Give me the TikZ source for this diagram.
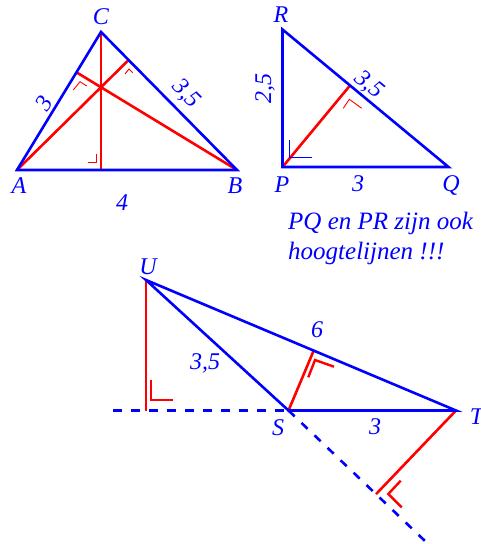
\documentclass[tikz,border=0pt]{standalone}
\usepackage{fontspec}
\setmainfont{Liberation Serif}
\usetikzlibrary{calc}
\begin{document}
\begin{tikzpicture}[x=1pt,y=-1pt,
  side/.style={draw=blue, line width=2.6pt, line join=miter},
  alt/.style={draw=red, line width=2.6pt},
  thinmark/.style={draw=red, line width=0.9pt},
  thinblue/.style={draw=blue, line width=1.1pt},
  bigmark/.style={draw=red, line width=2.4pt},
  lbl/.style={text=blue, font=\itshape\fontsize{24}{28}\selectfont, inner sep=0pt},
  note/.style={text=blue, font=\itshape\fontsize{25}{30}\selectfont, inner sep=0pt},
  dashline/.style={draw=blue, line width=2.6pt, dash pattern=on 8.5pt off 9.5pt}]
\useasboundingbox (0,0) rectangle (480,544);
% ---------- triangle ABC ----------
\coordinate (A) at (17,170);
\coordinate (B) at (237,170);
\coordinate (C) at (101,32);
\coordinate (Ha) at ($(C)!(A)!(B)$);
\coordinate (Hb) at ($(A)!(B)!(C)$);
\coordinate (Hc) at ($(A)!(C)!(B)$);
\draw[alt] (A) -- (Ha);
\draw[alt] (B) -- (Hb);
\draw[alt] (C) -- (Hc);
\draw[side] (A) -- (B) -- (C) -- cycle;
\draw[thinmark] (73.3,90) -- (80,81.7) -- (86.7,86);
\draw[thinmark] (125,74) -- (129,69) -- (132.7,72.7);
\draw[thinmark] (96,153.5) -- (96,162.3) -- (87.5,162.3);
\node[lbl] (lC) at (101,17) {C};
\node[lbl] (lA) at (19,186) {A};
\node[lbl] (lB) at (235,186) {B};
\node[lbl] (lAB) at (122,203) {4};
\node[lbl, rotate=58] (lAC) at (44,103) {3};
\node[lbl, rotate=-45] (lBC) at (186,94) {3,5};
% ---------- triangle PQR ----------
\coordinate (R) at (282.5,29.5);
\coordinate (P) at (282.5,167);
\coordinate (Q) at (448.5,167);
\coordinate (F) at ($(R)!(P)!(Q)$);
\draw[alt] (P) -- (F);
\draw[side] (P) -- (Q) -- (R) -- cycle;
\draw[thinblue] (289.3,140) -- (289.3,157.7) -- (311.7,157.7);
\draw[thinmark] (343.3,108.3) -- (349.3,99.3) -- (361.7,108.3);
\node[lbl] (lR) at (281,15) {R};
\node[lbl] (lP) at (282,185) {P};
\node[lbl] (lQ) at (451,185) {Q};
\node[lbl] (lPQ) at (358,184) {3};
\node[lbl, rotate=90] (lPR) at (265,88) {2,5};
\node[lbl, rotate=-39.6] (lQR) at (369,85) {3,5};
\node[note, anchor=base west] (t1) at (288,229) {PQ en PR zijn ook};
\node[note, anchor=base west] (t2) at (288,259) {hoogtelijnen !!!};
% ---------- triangle STU ----------
\coordinate (U) at (146,280);
\coordinate (S) at (288.5,410.5);
\coordinate (T) at (456,410.5);
\coordinate (L) at (113,410.5);
\coordinate (E) at (425,541);
\coordinate (Hu) at ($(L)!(U)!(S)$);
\coordinate (Hs) at ($(U)!(S)!(T)$);
\coordinate (Ht) at ($(S)!(T)!(E)$);
\draw[dashline] (L) -- (S);
\draw[dashline] (S) -- (E);
\draw[alt] (U) -- (Hu);
\draw[alt] (S) -- (Hs);
\draw[alt] (T) -- (Ht);
\draw[side] (U) -- (S) -- (T) -- cycle;
\draw[bigmark] (151,380) -- (151,400) -- (172.7,400);
\draw[bigmark] (308.3,377.3) -- (315,360) -- (334,366.7);
\draw[bigmark] (400.7,480.7) -- (388.3,494) -- (401.7,507.3);
\node[lbl] (lU) at (148,267) {U};
\node[lbl] (lS) at (278,428) {S};
\node[lbl] (lT) at (476.5,417) {T};
\node[lbl] (lUT) at (317,330) {6};
\node[lbl] (lUS) at (205,363) {3,5};
\node[lbl] (lST) at (375,427) {3};
\end{tikzpicture}
\end{document}
